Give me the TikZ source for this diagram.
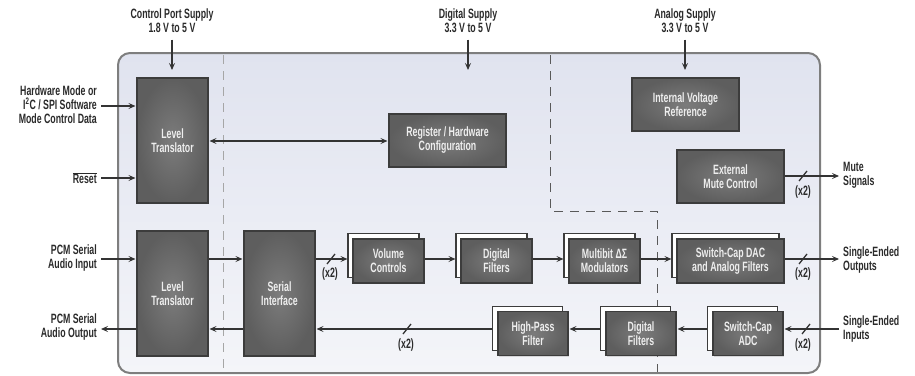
\documentclass[tikz,border=0pt]{standalone}
\usepackage{fontspec}
\setmainfont{Liberation Sans}[FakeStretch=0.65]
\usetikzlibrary{arrows.meta,shadows}
\definecolor{txtc}{HTML}{2A2A2A}
\definecolor{blkdraw}{HTML}{3C3C3C}
\definecolor{blkin}{HTML}{7C7C7C}
\definecolor{blkout}{HTML}{5E5E5E}
\definecolor{blktext}{HTML}{EEEEEE}
\definecolor{arrc}{HTML}{333333}
\definecolor{panelTop}{HTML}{E0E3EF}
\definecolor{panelBot}{HTML}{F4F5F9}
\definecolor{panelDraw}{HTML}{7E7E7E}
\begin{document}
\begin{tikzpicture}[x=1pt,y=-1pt,
  txt/.style={font=\bfseries\fontsize{13.5}{14}\selectfont, text=txtc, inner sep=0pt},
  lblc/.style={txt, align=center},
  lbll/.style={txt, align=left, anchor=west},
  lblr/.style={txt, align=right, anchor=east},
  blk/.style={draw=blkdraw, line width=1.1pt, inner color=blkin, outer color=blkout,
    text=blktext, font=\bfseries\fontsize{13.5}{14}\selectfont, align=center, inner sep=0pt,
    drop shadow={shadow xshift=1.2pt, shadow yshift=-1.2pt, opacity=0.25}},
  bback/.style={draw=blkdraw, line width=1.1pt, fill=white, inner sep=0pt},
  arr/.style={-{Stealth[length=7pt,width=6pt,inset=3pt]}, line width=1.3pt, draw=arrc},
  darr/.style={{Stealth[length=7pt,width=6pt,inset=3pt]}-{Stealth[length=7pt,width=6pt,inset=3pt]}, line width=1.3pt, draw=arrc},
  slashm/.style={line width=1.3pt, draw=arrc},
  dash1/.style={draw=gray!70, line width=1pt, dash pattern=on 9pt off 7pt},
  dash2/.style={draw=black!65, line width=0.8pt, dash pattern=on 9pt off 7pt}
]
\useasboundingbox (0,0) rectangle (915,375);

% main panel
\path[top color=panelTop, bottom color=panelBot, draw=panelDraw, line width=2pt, rounded corners=12pt]
  (118,53) rectangle (820,373);

% dashed domain borders
\draw[dash1] (223,55) -- (223,372);
\draw[dash2] (550,55) -- (550,211) -- (657,211) -- (657,372);

% top labels
\node[lblc] (cps) at (172,20.5) {Control Port Supply\\1.8 V to 5 V};
\node[lblc] (dsp) at (468,20.5) {Digital Supply\\3.3 V to 5 V};
\node[lblc] (asp) at (685,20.5) {Analog Supply\\3.3 V to 5 V};

% left labels
\node[lblr] (hw) at (97,105) {Hardware Mode or\\I\textsuperscript{2}C / SPI Software\\Mode Control Data};
\node[lblr] (rst) at (97,178) {$\overline{\mbox{\bfseries\fontsize{13.5}{14}\selectfont Reset}}$};
\node[lblr] (pcmi) at (97,258) {PCM Serial\\Audio Input};
\node[lblr] (pcmo) at (97,327) {PCM Serial\\Audio Output};

% right labels
\node[lbll] (mute) at (843,175) {Mute\\Signals};
\node[lbll] (seo) at (843,260) {Single-Ended\\Outputs};
\node[lbll] (sei) at (843,329) {Single-Ended\\Inputs};

% blocks
\node[blk, minimum width=71pt, minimum height=125pt] (lt1) at (172.5,140.5) {Level\\Translator};
\node[blk, minimum width=71pt, minimum height=125pt] (lt2) at (172.5,293.5) {Level\\Translator};
\node[blk, minimum width=71pt, minimum height=125pt] (si) at (279.5,293.5) {Serial\\Interface};
\node[blk, minimum width=117pt, minimum height=53pt] (reg) at (447.5,140.5) {Register / Hardware\\Configuration};
\node[blk, minimum width=107pt, minimum height=53pt] (ivr) at (685.5,104.5) {Internal Voltage\\Reference};
\node[blk, minimum width=107pt, minimum height=53pt] (emc) at (730.5,176.5) {External\\Mute Control};

% stacked blocks, top row
\node[bback, minimum width=71pt, minimum height=44pt] (volb) at (383.5,255.5) {};
\node[blk, minimum width=71pt, minimum height=44pt] (vol) at (388.5,261) {Volume\\Controls};
\node[bback, minimum width=71pt, minimum height=44pt] (df1b) at (491.5,255.5) {};
\node[blk, minimum width=71pt, minimum height=44pt] (df1) at (496.5,261) {Digital\\Filters};
\node[bback, minimum width=71pt, minimum height=44pt] (mbb) at (599.5,255.5) {};
\node[blk, minimum width=71pt, minimum height=44pt] (mb) at (604.5,261) {Multibit ΔΣ\\Modulators};
\node[bback, minimum width=107pt, minimum height=44pt] (dacb) at (725.5,255.5) {};
\node[blk, minimum width=107pt, minimum height=44pt] (dac) at (730.5,261) {Switch-Cap DAC\\and Analog Filters};

% stacked blocks, bottom row
\node[bback, minimum width=70pt, minimum height=44pt] (hpfb) at (527.5,328.5) {};
\node[blk, minimum width=70pt, minimum height=44pt] (hpf) at (533,333.5) {High-Pass\\Filter};
\node[bback, minimum width=70pt, minimum height=44pt] (df2b) at (635.5,328.5) {};
\node[blk, minimum width=70pt, minimum height=44pt] (df2) at (641,333.5) {Digital\\Filters};
\node[bback, minimum width=70pt, minimum height=44pt] (adcb) at (742.5,328.5) {};
\node[blk, minimum width=70pt, minimum height=44pt] (adc) at (748,333.5) {Switch-Cap\\ADC};

% row coordinates
\coordinate (r1) at (0,259);
\coordinate (r2) at (0,329);
\coordinate (dsend) at (468,70);
\coordinate (asend) at (685,70);
\coordinate (cpend) at (172,70);

% supply arrows
\draw[arr] ([yshift=-7pt]cps.south) -- (cpend);
\draw[arr] ([yshift=-7pt]dsp.south) -- (dsend);
\draw[arr] ([yshift=-7pt]asp.south) -- (asend);

% left inputs
\draw[arr] ([xshift=4pt,yshift=-1pt]hw.east) -- ([xshift=-1pt]lt1.west |- 0,106);
\draw[arr] ([xshift=4pt]rst.east |- 0,178) -- ([xshift=-1pt]lt1.west |- 0,178);
\draw[arr] ([xshift=4pt]pcmi.east |- r1) -- ([xshift=-1pt]lt2.west |- r1);
\draw[arr] (lt2.west |- r2) -- ([xshift=4pt]pcmo.east |- r2);

% control
\draw[darr] ([xshift=1pt]lt1.east |- 0,141) -- ([xshift=-1pt]reg.west |- 0,141);

% data path
\draw[arr] (lt2.east |- r1) -- ([xshift=-1pt]si.west |- r1);
\draw[arr] (si.west |- r2) -- ([xshift=1pt]lt2.east |- r2);
\draw[arr] (si.east |- r1) -- (volb.west |- r1);
\draw[arr] (vol.east |- r1) -- (df1b.west |- r1);
\draw[arr] (df1.east |- r1) -- (mbb.west |- r1);
\draw[arr] (mb.east |- r1) -- (dacb.west |- r1);
\draw[arr] (dac.east |- r1) -- ([xshift=-4pt]seo.west |- r1);
\draw[arr] (emc.east |- 0,176) -- ([xshift=-4pt]mute.west |- 0,176);
\draw[arr] ([xshift=-4pt]sei.west |- r2) -- ([xshift=1pt]adc.east |- r2);
\draw[arr] (adcb.west |- r2) -- ([xshift=1pt]df2.east |- r2);
\draw[arr] (df2b.west |- r2) -- ([xshift=1pt]hpf.east |- r2);
\draw[arr] (hpfb.west |- r2) -- ([xshift=1pt]si.east |- r2);

% bus slashes and (x2)
\draw[slashm] (327,264) -- (335,254);
\node[lblc] (x2a) at (330,274) {(x2)};
\draw[slashm] (799,264) -- (807,254);
\node[lblc] (x2b) at (803,274) {(x2)};
\draw[slashm] (799,181) -- (807,171);
\node[lblc] (x2c) at (803,192) {(x2)};
\draw[slashm] (802,334) -- (810,324);
\node[lblc] (x2d) at (803,345) {(x2)};
\draw[slashm] (403,334) -- (411,324);
\node[lblc] (x2e) at (406,345) {(x2)};
\end{tikzpicture}
\end{document}
